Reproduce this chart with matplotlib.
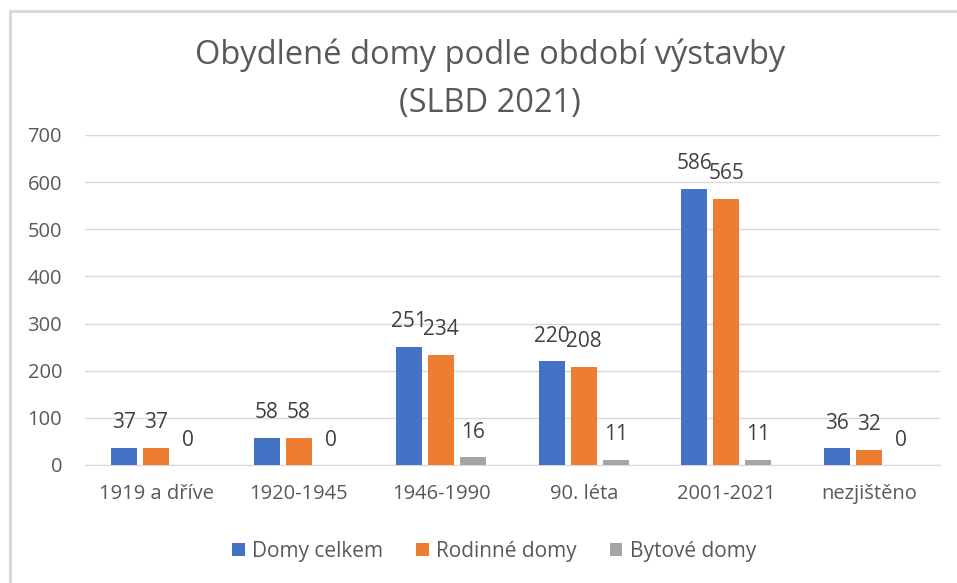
import matplotlib
matplotlib.use("Agg")
import matplotlib.pyplot as plt
import numpy as np
from matplotlib.lines import Line2D

categories = ["1919 a dříve", "1920-1945", "1946-1990", "90. léta", "2001-2021", "nezjištěno"]
series_names = ["Domy celkem", "Rodinné domy", "Bytové domy"]
domy_celkem = [37, 58, 251, 220, 586, 36]
rodinne_domy = [37, 58, 234, 208, 565, 32]
bytove_domy = [0, 0, 16, 11, 11, 0]
colors = ["#4472C4", "#ED7D31", "#A5A5A5"]
yticks = [0, 100, 200, 300, 400, 500, 600, 700]

plt.rcParams['font.family'] = ['Open Sans', 'DejaVu Sans']
txt = "#595959"

W, H = 957, 583
fig = plt.figure(figsize=(W / 100, H / 100), dpi=100)
# chart border (only left and top visible in the reference crop)
fig.add_artist(Line2D([9.5 / W, 9.5 / W], [0, 1 - 11 / H], transform=fig.transFigure,
                      color="#D9D9D9", linewidth=2.2))
fig.add_artist(Line2D([9.5 / W, 1], [1 - 11 / H, 1 - 11 / H], transform=fig.transFigure,
                      color="#D9D9D9", linewidth=2.2))

ax = fig.add_axes([85 / W, 1 - 465 / H, (940 - 85) / W, (465 - 135) / H])

x = np.arange(len(categories))
w = 0.18
off = 0.225
for i, (vals, name, c) in enumerate(zip([domy_celkem, rodinne_domy, bytove_domy], series_names, colors)):
    pos = x + (i - 1) * off
    ax.bar(pos, vals, width=w, color=c, label=name, zorder=3)
    for p, v in zip(pos, vals):
        ax.annotate(str(v), (p, v), xytext=(0, 18), textcoords="offset points",
                    ha="center", va="center", fontsize=15, color="#404040")

ax.set_xlim(-0.5, len(categories) - 0.5)
ax.set_ylim(0, 700)
ax.set_yticks(yticks)
ax.set_xticks(x)
ax.set_xticklabels(categories)
ax.grid(axis="y", color="#D9D9D9", linewidth=1, zorder=0)
for s in ["top", "right", "left"]:
    ax.spines[s].set_visible(False)
ax.spines["bottom"].set_color("#D9D9D9")
ax.tick_params(axis="both", length=0, labelsize=14.5, colors=txt)
ax.tick_params(axis="x", pad=14)
ax.tick_params(axis="y", pad=16.5)

fig.text(490 / W, 1 - 79 / H, "Obydlené domy podle období výstavby\n(SLBD 2021)", ha="center", va="center",
         fontsize=23.5, color=txt, linespacing=1.6)

fig.legend(loc="center", bbox_to_anchor=(494 / W, 1 - 551 / H), ncol=3, frameon=False,
           fontsize=15, labelcolor=txt, handlelength=0.6, handleheight=0.6,
           columnspacing=1.6, handletextpad=0.35)

fig.savefig("out.png", dpi=100, facecolor="white")
